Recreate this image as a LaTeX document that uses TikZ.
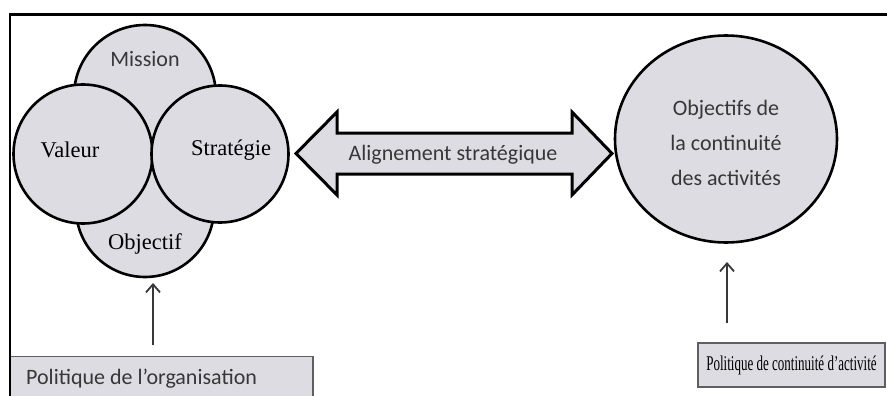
\documentclass[tikz,border=0pt]{standalone}
\usepackage{fontspec}
\usetikzlibrary{arrows.meta,shapes.geometric}
\newfontfamily\carl{Carlito}
\newfontfamily\tms{Liberation Serif}
\definecolor{fillg}{RGB}{221,220,226}
\definecolor{txtg}{RGB}{55,55,55}
\definecolor{boxedge}{RGB}{95,95,95}
\tikzset{
  bubble/.style={circle,draw=black,line width=2.6pt,fill=fillg,inner sep=0pt,minimum size=#1},
  sanslbl/.style={font=\fontsize{22}{26}\carl,text=txtg,inner sep=0pt},
  seriflbl/.style={font=\fontsize{22.5}{26}\tms,text=black,inner sep=0pt},
  uparrow/.style={line width=1.8pt,draw=txtg,-{Straight Barb[length=8pt,width=14pt,line width=1.8pt]}},
  policybox/.style={draw=boxedge,line width=1.6pt,fill=fillg}
}
\begin{document}
\begin{tikzpicture}[x=1pt,y=-1pt]
\useasboundingbox (0,0) rectangle (887,396);
\fill[white] (0,0) rectangle (887,396);
% frame
\draw[line width=2.2pt] (887,14.5) -- (10,14.5) -- (10,357);
% left policy box
\draw[policybox] (10,356.5) rectangle (313,400);
\draw[line width=2.2pt] (10,356) -- (10,400);
\node[sanslbl,anchor=west] (lpol) at (26,379) {Politique de l’organisation};
% circles
\node[bubble=142pt] (mission) at (145,96) {};
\node[bubble=138pt] (objectif) at (145,208) {};
\node[bubble=139pt] (valeur) at (83,154) {};
\node[bubble=137pt] (strategie) at (220,154) {};
\node[sanslbl] (tmission) at (145,59) {Mission};
\node[seriflbl] (tvaleur) at (70,150) {Valeur};
\node[seriflbl] (tstrat) at (231,150) {Stratégie};
\node[seriflbl] (tobj) at (145,244) {Objectif};
% right ellipse
\node[ellipse,draw=black,line width=2.6pt,fill=fillg,minimum width=222pt,minimum height=207pt,inner sep=0pt] (cont) at (726,139) {};
\node[sanslbl,align=center,font=\fontsize{22}{35}\carl] (tcont) at (726,143) {Objectifs de\\la continuité\\des activités};
% double arrow
\draw[line width=3pt,fill=fillg,line join=miter]
  (296,153.5) -- (337,112) -- (337,133) -- (572,133) -- (572,112) -- (612,153.5)
  -- (572,195) -- (572,174) -- (337,174) -- (337,195) -- cycle;
\node[sanslbl] (align) at (453,155) {Alignement stratégique};
% right policy box
\node[policybox,minimum width=187pt,minimum height=44pt,inner sep=0pt] (rpol) at (791.5,365) {\scalebox{0.62}[1]{\fontsize{21}{24}\tms Politique de continuité d’activité}};
% up arrows
\coordinate (la) at (153,345);
\draw[uparrow] (la) -- (153,283);
\coordinate (ra) at (727,323);
\draw[uparrow] (ra) -- (727,262);
\end{tikzpicture}
\end{document}
